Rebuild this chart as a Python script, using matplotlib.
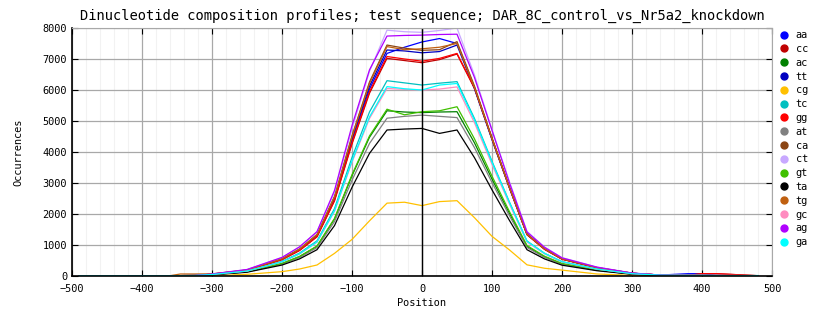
import matplotlib
matplotlib.use('Agg')
import matplotlib.pyplot as plt
from matplotlib.ticker import MultipleLocator

positions = [-490, -360, -345, -325, -300, -250, -200, -175, -150, -125, -100, -75,
             -50, -25, 0, 25, 50,
             75, 100, 125, 150, 175, 200, 250, 300, 340, 380, 400, 420, 480]

aa = [10, 10, 12, 15, 57, 187, 539, 840, 1292, 2477, 4358, 6031,
      7180, 7380, 7550, 7660, 7500,
      6075, 4425, 2850, 1350, 878, 555, 270, 90, 30, 75, 75, 15, 10]
cc = [10, 10, 12, 15, 56, 183, 527, 821, 1264, 2422, 4261, 5897,
      7020, 6950, 6880, 6980, 7160,
      6050, 4420, 2840, 1330, 860, 540, 262, 88, 30, 20, 75, 75, 10]
ac = [10, 10, 12, 15, 43, 139, 400, 624, 959, 1839, 3235, 4477,
      5330, 5290, 5270, 5290, 5300,
      4293, 3127, 2014, 954, 620, 392, 191, 64, 25, 18, 15, 12, 10]
tt = [10, 10, 12, 15, 58, 190, 547, 853, 1312, 2515, 4425, 6124,
      7290, 7260, 7200, 7240, 7450,
      6035, 4396, 2831, 1341, 872, 551, 268, 89, 30, 20, 18, 15, 10]
cg = [0, 0, 0, 3, 5, 55, 140, 225, 355, 730, 1180, 1780,
      2350, 2380, 2270, 2400, 2430,
      1880, 1280, 840, 360, 250, 190, 65, 20, 10, 8, 5, 5, 3]
tc = [10, 10, 12, 15, 50, 164, 473, 737, 1134, 2174, 3824, 5292,
      6300, 6230, 6160, 6220, 6270,
      5079, 3699, 2383, 1129, 734, 464, 226, 75, 28, 20, 18, 15, 10]
gg = [10, 10, 12, 15, 57, 184, 531, 828, 1274, 2443, 4298, 5947,
      7080, 7000, 6930, 7020, 7180,
      6070, 4440, 2850, 1340, 865, 545, 265, 88, 30, 20, 75, 75, 10]
at = [10, 10, 12, 15, 41, 132, 382, 596, 916, 1756, 3090, 4276,
      5090, 5150, 5190, 5150, 5110,
      4139, 3015, 1942, 920, 598, 378, 184, 61, 25, 18, 15, 12, 10]
ca = [10, 10, 12, 15, 60, 194, 559, 872, 1341, 2570, 4522, 6258,
      7450, 7350, 7280, 7300, 7560,
      6124, 4460, 2873, 1361, 885, 559, 272, 91, 30, 20, 18, 15, 10]
ct = [10, 10, 12, 15, 63, 206, 595, 928, 1427, 2700, 4750, 6600,
      7930, 7880, 7860, 7920, 8000,
      6480, 4720, 3040, 1440, 936, 592, 288, 96, 32, 22, 18, 15, 10]
gt = [10, 10, 12, 15, 43, 140, 404, 629, 968, 1856, 3266, 4519,
      5380, 5200, 5300, 5330, 5460,
      4423, 3221, 2075, 983, 639, 404, 197, 66, 25, 18, 15, 12, 10]
ta = [10, 10, 12, 15, 38, 122, 353, 551, 848, 1625, 2859, 3956,
      4710, 4740, 4760, 4600, 4710,
      3815, 2779, 1790, 848, 551, 349, 170, 57, 22, 15, 12, 10, 8]
tg = [10, 10, 65, 65, 70, 192, 555, 866, 1332, 2553, 4492, 6216,
      7400, 7300, 7330, 7380, 7500,
      6075, 4425, 2850, 1350, 878, 555, 270, 90, 30, 20, 18, 15, 10]
gc = [10, 10, 12, 15, 48, 157, 454, 708, 1089, 2087, 3672, 5082,
      6050, 6020, 6000, 6030, 6100,
      4941, 3599, 2318, 1098, 714, 451, 220, 73, 28, 20, 18, 15, 10]
ag = [10, 10, 12, 15, 64, 210, 600, 940, 1430, 2760, 4850, 6650,
      7740, 7760, 7770, 7790, 7800,
      6400, 4700, 3000, 1420, 925, 585, 285, 95, 32, 22, 18, 15, 10]
ga = [10, 10, 12, 15, 49, 159, 458, 715, 1100, 2108, 3709, 5132,
      6110, 6040, 6000, 6160, 6210,
      5030, 3664, 2360, 1118, 727, 460, 224, 75, 28, 20, 18, 15, 15]

names = ['aa', 'cc', 'ac', 'tt', 'cg', 'tc', 'gg', 'at',
         'ca', 'ct', 'gt', 'ta', 'tg', 'gc', 'ag', 'ga']
series = [aa, cc, ac, tt, cg, tc, gg, at, ca, ct, gt, ta, tg, gc, ag, ga]
colors = ['#0000ff', '#c00000', '#008000', '#0000c0', '#ffc000', '#00c0c0',
          '#ff0000', '#808080', '#8b4513', '#c8a8ff', '#40c000', '#000000',
          '#c06010', '#ff8cc0', '#b000ff', '#00ffff']

font = 'DejaVu Sans Mono'

fig = plt.figure(figsize=(8.34, 3.28), dpi=100)
ax = fig.add_axes([72 / 834, 1 - 276 / 328, 700 / 834, 248 / 328])

ax.xaxis.set_major_locator(MultipleLocator(100))
ax.xaxis.set_minor_locator(MultipleLocator(20))
ax.yaxis.set_major_locator(MultipleLocator(1000))
ax.grid(which='minor', axis='x', color='#f2f2f2', lw=0.8)
ax.grid(which='major', color='#a8a8a8', lw=0.9)
ax.set_axisbelow(True)

for name, vals, col in zip(names, series, colors):
    ax.plot(positions, vals, color=col, lw=0.9, label=name)

ax.axvline(0, color='black', lw=1)

ax.set_xlim(-500, 500)
ax.set_ylim(0, 8000)

for side in ['top', 'right']:
    ax.spines[side].set_color('#a8a8a8')
for side in ['left', 'bottom']:
    ax.spines[side].set_color('black')
    ax.spines[side].set_linewidth(1.2)

ax.tick_params(which='major', direction='in', length=4, width=0.8,
               labelsize=7.4, colors='black', top=True, right=True)
ax.tick_params(axis='x', which='major', pad=6)
ax.tick_params(which='minor', direction='in', length=0)
for lab in ax.get_xticklabels() + ax.get_yticklabels():
    lab.set_fontfamily(font)

ax.set_title('Dinucleotide composition profiles; test sequence; DAR_8C_control_vs_Nr5a2_knockdown',
             fontfamily=font, fontsize=9.9, pad=6)
ax.set_xlabel('Position', fontfamily=font, fontsize=7.4, labelpad=3)
ax.set_ylabel('Occurrences', fontfamily=font, fontsize=7.4, labelpad=14)

leg_handles = [plt.Line2D([], [], ls='none', marker='o', ms=5, color=c) for c in colors]
fig.legend(leg_handles, names, loc='upper left', bbox_to_anchor=(773 / 834, 1 - 23 / 328),
           frameon=False, prop={'family': font, 'size': 7.4}, handlelength=0.8,
           handletextpad=0.7, labelspacing=0.37, borderpad=0.2)

plt.savefig('out.png', dpi=100)
plt.close()
